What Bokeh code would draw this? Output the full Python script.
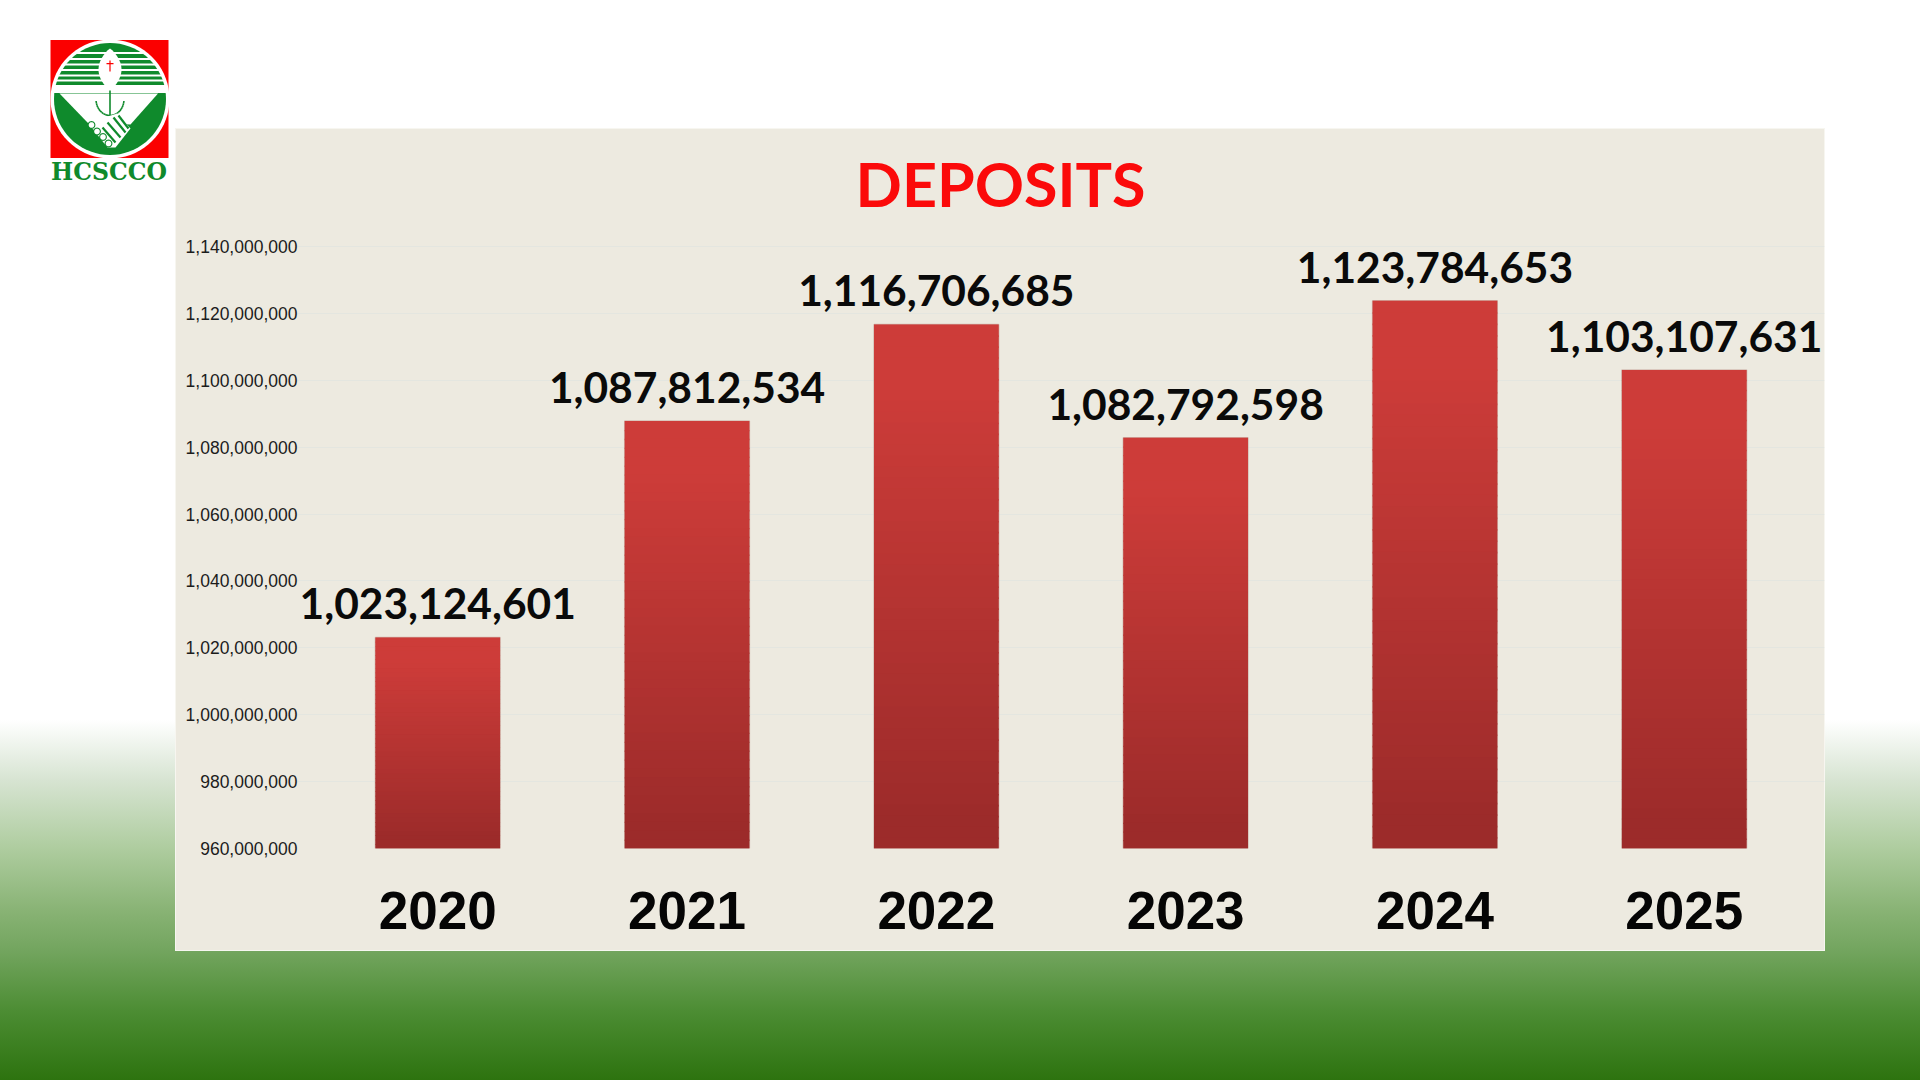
import numpy as np
from bokeh.plotting import figure
from bokeh.embed import file_html
from bokeh.resources import INLINE
from bokeh.layouts import column
from bokeh.models import (ColumnDataSource, FactorRange, Range1d, FixedTicker, NumeralTickFormatter, LabelSet)
from bokeh.core.properties import value

years = ["2020", "2021", "2022", "2023", "2024", "2025"]
deposits = [1023124601, 1087812534, 1116706685, 1082792598, 1123784653, 1103107631]
y_ticks = [960000000, 980000000, 1000000000, 1020000000, 1040000000, 1060000000,
           1080000000, 1100000000, 1120000000, 1140000000]
title_text = "DEPOSITS"
logo_text = "HCSCCO"

W, H = 1920, 1080
Y0, Y1 = 960000000, 1140000000
FIXED = {"position": "fixed", "left": "0px", "top": "0px"}

page_bg = ("linear-gradient(#edeae0,#edeae0) 176px 129px/1648px 821px no-repeat,"
           "linear-gradient(#f7f6f0,#f7f6f0) 175px 128px/1650px 823px no-repeat,"
           "linear-gradient(to bottom,#ffffff 0,#ffffff 720px,#d7e4d2 780px,#afcda0 847px,"
           "#87b273 913px,#73a55f 950px,#4b8c32 1013px,#2d730f 1080px)")

# ---- backdrop: page colours, logo and title, in page pixels
bg = figure(width=W, height=H, output_backend="svg", toolbar_location=None,
            x_range=Range1d(0, W), y_range=Range1d(H, 0),
            x_axis_location=None, y_axis_location=None,
            min_border=0, outline_line_color=None, frame_align=False,
            styles=dict(FIXED, background=page_bg))
bg.grid.visible = False
bg.background_fill_alpha = 0
bg.border_fill_alpha = 0

GREEN, RED, WHITE = "#0f8a2c", "#fb0000", "#ffffff"
def poly(x, y, c):
    bg.patch(list(x), list(y), fill_color=c, line_color=None)
def rect(x0, y0, x1, y1, c):
    poly([x0, x1, x1, x0], [y0, y0, y1, y1], c)
def circle(cx, cy, r, c, n=72):
    a = np.linspace(0, 2 * np.pi, n, endpoint=False)
    poly(cx + r * np.cos(a), cy + r * np.sin(a), c)
def seg(x0, y0, x1, y1, w, c):
    d = np.array([x1 - x0, y1 - y0], float); d = d / np.hypot(*d)
    n = np.array([-d[1], d[0]]) * w / 2
    poly([x0 + n[0], x1 + n[0], x1 - n[0], x0 - n[0]], [y0 + n[1], y1 + n[1], y1 - n[1], y0 - n[1]], c)

cx, cy = 109.5, 98.5
rect(50, 39.5, 168, 157.5, RED)
circle(cx, cy, 59.5, WHITE)
circle(cx, cy, 56, GREEN)
for yy, t in [(52.5, 2), (58.5, 2), (64, 2), (69.5, 2), (75, 2), (80, 2), (88.5, 8)]:
    hw = np.sqrt(max(56 ** 2 - (yy - cy) ** 2, 0)) + 1
    rect(cx - hw, yy - t / 2, cx + hw, yy + t / 2, WHITE)
t = np.linspace(0, 1, 25)
lw = 11.5 * np.sin(np.pi * t) ** 0.8
ly = 48 + 42 * t
poly(np.r_[cx + lw, (cx - lw)[::-1]], np.r_[ly, ly[::-1]], WHITE)
rect(cx - 0.6, 60, cx + 0.6, 71, RED)
rect(cx - 3.5, 62.5, cx + 3.5, 63.7, RED)
poly([59, 157.5, 130, 87], [93, 93, 124, 122], WHITE)
rect(cx - 0.8, 90, cx + 0.8, 116, GREEN)
a = np.linspace(0.03 * np.pi, 0.97 * np.pi, 22)
ax, ay = cx + 14 * np.cos(a), 99 + 16 * np.sin(a)
for i in range(len(a) - 1):
    seg(ax[i], ay[i], ax[i + 1], ay[i + 1], 1.6, GREEN)
poly([87, 117, 130, 115, 107], [122, 113, 128, 147, 147], WHITE)
for (x0, y0, x1, y1) in [(118, 115, 128, 128), (113, 117, 125, 132), (107, 122, 120, 137), (102, 127, 115, 142)]:
    seg(x0, y0, x1, y1, 2.2, GREEN)
for bx, by in [(91, 124.5), (96.5, 131), (102.5, 136.5), (108, 143)]:
    circle(bx, by, 3.9, GREEN, 24)
    circle(bx, by, 2.8, WHITE, 24)

bg.text([108.5], [171], text=[logo_text], text_align="center", text_baseline="middle",
        text_font=value("DejaVu Serif"), text_font_style="bold", text_font_size="23.5px", text_color=GREEN)
bg.text([1000], [183], text=[title_text], text_align="center", text_baseline="middle",
        text_font=value("Lato"), text_font_style="bold", text_font_size="61px", text_color="#fb0a0a")

# ---- chart
F_LEFT, F_RIGHT, F_TOP, F_BOTTOM = 297, 1824, 240, 848
step = 249.3
pad = ((F_RIGHT - F_LEFT) / step - len(years)) / 2
top_val = Y1 + (Y1 - Y0) * (246 - F_TOP) / (F_BOTTOM - 246)

p = figure(width=W, height=H, output_backend="svg", toolbar_location=None,
           x_range=FactorRange(factors=years, range_padding=pad, range_padding_units="absolute"),
           y_range=Range1d(Y0, top_val),
           min_border_left=F_LEFT, min_border_right=W - F_RIGHT,
           min_border_top=F_TOP, min_border_bottom=H - F_BOTTOM,
           outline_line_color=None, frame_align=False, styles=dict(FIXED))
p.background_fill_alpha = 0
p.border_fill_alpha = 0

p.yaxis.ticker = FixedTicker(ticks=y_ticks)
p.yaxis.formatter = NumeralTickFormatter(format="0,0")
p.yaxis.axis_line_color = None
p.yaxis.major_tick_line_color = None
p.yaxis.minor_tick_line_color = None
p.yaxis.major_label_text_font = "Liberation Sans"
p.yaxis.major_label_text_font_size = "17.5px"
p.yaxis.major_label_text_color = "#1c1c1c"
p.yaxis.major_label_standoff = -6
p.xaxis.axis_line_color = None
p.xaxis.major_tick_line_color = None
p.xaxis.minor_tick_line_color = None
p.xaxis.major_label_text_font = "Liberation Sans"
p.xaxis.major_label_text_font_style = "bold"
p.xaxis.major_label_text_font_size = "53px"
p.xaxis.major_label_text_color = "#050505"
p.xaxis.major_label_standoff = 37
p.xgrid.grid_line_color = None
p.ygrid.grid_line_color = "#e4e6e0"
p.ygrid.grid_line_width = 1

src = ColumnDataSource(dict(year=years, deposits=deposits, label=[f"{v:,}" for v in deposits]))
p.vbar(x="year", top="deposits", bottom=Y0, width=0.5, source=src,
       fill_color="#b23232", line_color="#c9a9a0", line_width=1.5, line_alpha=0.7)

def ramp(f):
    t = np.clip((f - 0.12) / 0.83, 0, 1)
    a, b = np.array([205, 60, 57]), np.array([156, 43, 42])
    c = a + (b - a) * t
    return "#%02x%02x%02x" % tuple(int(round(i)) for i in c)

N = 48
sx, st, sb, sc = [], [], [], []
for yr, v in zip(years, deposits):
    for i in range(N):
        sx.append(yr)
        st.append(v - (v - Y0) * i / N)
        sb.append(v - (v - Y0) * (i + 1.15) / N if i < N - 1 else Y0)
        sc.append(ramp((i + 0.5) / N))
p.vbar(x=sx, top=st, bottom=sb, width=0.5, fill_color=sc, line_color=None)

p.add_layout(LabelSet(x="year", y="deposits", text="label", source=src, y_offset=18,
                      text_align="center", text_baseline="alphabetic",
                      text_font=value("Lato"), text_font_style="bold",
                      text_font_size="42.5px", text_color="#0a0a0a"))

open("out.html", "w").write(file_html(column(bg, p), INLINE))
